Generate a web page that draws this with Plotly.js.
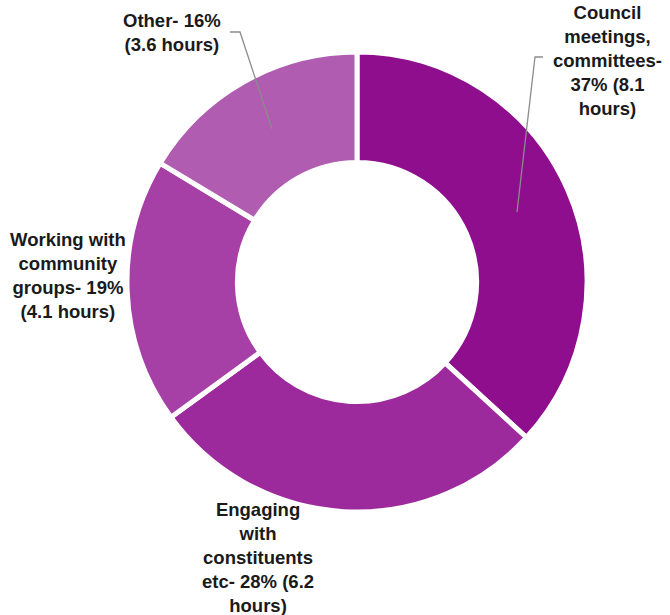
<!DOCTYPE html>
<html>
<head>
<meta charset="utf-8">
<script src="https://cdn.plot.ly/plotly-3.0.1.min.js"></script>
<style>html,body{margin:0;padding:0;background:#fff;}#chart{width:670px;height:615px;}</style>
</head>
<body>
<div id="chart"></div>
<script>
const categories = ["Council meetings, committees", "Engaging with constituents etc", "Working with community groups", "Other"];
const hours = [8.1, 6.2, 4.1, 3.6];
const percents = [37, 28, 19, 16];
const labelTexts = [
  "Council<br>meetings,<br>committees-<br>37% (8.1<br>hours)",
  "Engaging<br>with<br>constituents<br>etc- 28% (6.2<br>hours)",
  "Working with<br>community<br>groups- 19%<br>(4.1 hours)",
  "Other- 16%<br>(3.6 hours)"
];
const colors = ["#8E0E8E", "#9C2A9C", "#A640A6", "#B05CB0"];

// pixel layout helpers
const W = 670, H = 615;
const L = 127, T = 52, S = 460;
const px = x => (x - L) / S;
const py = y => (T + S - y) / S;

const labelPos = [[607, 60, 'center'], [258, 557, 'center'], [68, 275, 'center'], [172, 33, 'center']];

const annotations = labelTexts.map((t, i) => ({
  text: t, xref: 'paper', yref: 'paper',
  x: px(labelPos[i][0]), y: py(labelPos[i][1]),
  xanchor: 'center', yanchor: 'middle', align: labelPos[i][2],
  showarrow: false,
  font: {family: 'Liberation Sans, Arial, sans-serif', size: 18.5, color: '#1a1a1a', weight: 'bold'}
}));

const leader = pts => ({
  type: 'path', xref: 'paper', yref: 'paper',
  path: pts.map((p, i) => (i ? 'L' : 'M') + px(p[0]) + ',' + py(p[1])).join(' '),
  line: {color: '#8c8c8c', width: 1.3}
});
const shapes = [
  leader([[517, 212], [535, 57], [543, 57]]),
  leader([[272, 129], [240, 32], [230, 32]])
];

const trace = {
  type: 'pie',
  labels: categories,
  values: hours,
  customdata: percents,
  sort: false,
  direction: 'clockwise',
  rotation: 0,
  hole: 0.52,
  textinfo: 'none',
  hoverinfo: 'label+value',
  marker: {colors: colors, line: {color: '#ffffff', width: 5}},
  showlegend: false
};

Plotly.newPlot('chart', [trace], {
  width: W, height: H,
  margin: {l: L, r: W - L - S, t: T, b: H - T - S, pad: 0},
  paper_bgcolor: '#ffffff',
  plot_bgcolor: '#ffffff',
  annotations: annotations,
  shapes: shapes,
  showlegend: false
}, {displayModeBar: false, staticPlot: true});
</script>
</body>
</html>
